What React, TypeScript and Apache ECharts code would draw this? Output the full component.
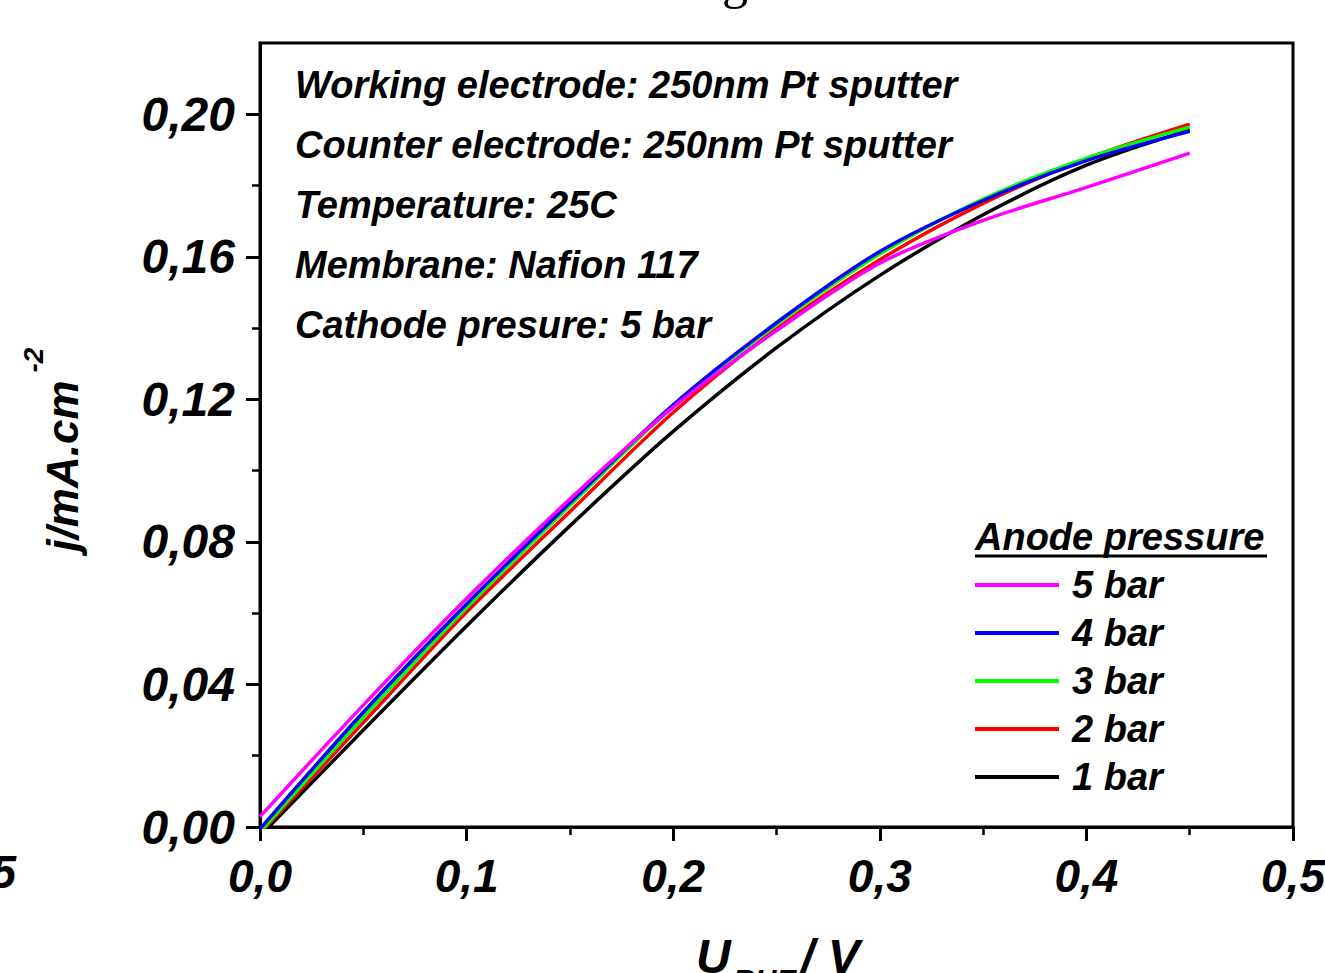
import React, { useEffect, useRef } from "react";
import * as echarts from "echarts";

// Potential U_RHE / V
const voltage = [0, 0.05, 0.1, 0.15, 0.2, 0.25, 0.3, 0.35, 0.4, 0.45];
// Current density j / mA.cm-2 for each anode pressure
const j5bar = [0.0029, 0.0342, 0.0641, 0.092, 0.1178, 0.1393, 0.1582, 0.1702, 0.1795, 0.1891];
const j4bar = [-0.0005, 0.0322, 0.0626, 0.091, 0.1185, 0.1415, 0.1615, 0.1758, 0.187, 0.1952];
const j3bar = [-0.0014, 0.0308, 0.0615, 0.0902, 0.118, 0.141, 0.1608, 0.1762, 0.1877, 0.1964];
const j2bar = [-0.0018, 0.0293, 0.0603, 0.0885, 0.1163, 0.1398, 0.1592, 0.175, 0.1875, 0.1972];
const j1bar = [-0.0025, 0.0272, 0.0564, 0.0845, 0.111, 0.1345, 0.1548, 0.1718, 0.1857, 0.1956];

const seriesNames = ["1 bar", "2 bar", "3 bar", "4 bar", "5 bar"];
const seriesData = [j1bar, j2bar, j3bar, j4bar, j5bar];
const seriesColors = ["#000000", "#ff0000", "#00ff00", "#0000ff", "#ff00ff"];
const legendOrder = ["5 bar", "4 bar", "3 bar", "2 bar", "1 bar"];

const yMajorTicks = [0, 0.04, 0.08, 0.12, 0.16, 0.2];
const yMinorTicks = [0.02, 0.06, 0.1, 0.14, 0.18];

const infoLines = [
  "Working electrode: 250nm Pt sputter",
  "Counter electrode: 250nm Pt sputter",
  "Temperature: 25C",
  "Membrane: Nafion 117",
  "Cathode presure: 5 bar",
];

const FONT = "'Liberation Sans', Arial, sans-serif";
const boldItalic = { fontFamily: FONT, fontWeight: "bold", fontStyle: "italic", fill: "#000" };

export default function App() {
  const ref = useRef<HTMLDivElement>(null);
  useEffect(() => {
    if (!ref.current) return;
    const chart = echarts.init(ref.current, undefined, { renderer: "svg" });
    const option: any = {
      animation: false,
      backgroundColor: "#ffffff",
      grid: {
        left: 260,
        right: 32,
        top: 43,
        bottom: 146,
        show: true,
        borderColor: "#000",
        borderWidth: 3,
        containLabel: false,
        outerBoundsMode: "none",
      },
      xAxis: {
        type: "value",
        min: 0,
        max: 0.5,
        interval: 0.1,
        splitLine: { show: false },
        axisLine: { lineStyle: { color: "#000", width: 3 } },
        axisTick: { inside: false, length: 14, lineStyle: { color: "#000", width: 3 } },
        minorTick: { show: true, splitNumber: 2, length: 8, lineStyle: { color: "#000", width: 2.5 } },
        axisLabel: {
          margin: 26,
          fontSize: 46,
          fontFamily: FONT,
          fontWeight: "bold",
          fontStyle: "italic",
          color: "#000",
          hideOverlap: false,
          formatter: (v: number) => v.toFixed(1).replace(".", ","),
        },
      },
      yAxis: [
        {
          type: "value",
          min: 0,
          max: 0.22,
          interval: 0.02,
          splitLine: { show: false },
          axisLine: { lineStyle: { color: "#000", width: 3 } },
          axisTick: {
            inside: false,
            length: 14,
            customValues: yMajorTicks,
            lineStyle: { color: "#000", width: 3 },
          },
          axisLabel: {
            customValues: yMajorTicks,
            margin: 25,
            fontSize: 48,
            fontFamily: FONT,
            fontWeight: "bold",
            fontStyle: "italic",
            color: "#000",
            formatter: (v: number) => v.toFixed(2).replace(".", ","),
          },
        },
        {
          type: "value",
          min: 0,
          max: 0.22,
          interval: 0.02,
          position: "left",
          offset: 0,
          splitLine: { show: false },
          axisLine: { show: false },
          axisTick: {
            inside: false,
            length: 8,
            customValues: yMinorTicks,
            lineStyle: { color: "#000", width: 2.5 },
          },
          axisLabel: { show: false },
        },
      ],
      legend: {
        data: legendOrder,
        orient: "vertical",
        left: 975,
        top: 566,
        padding: 0,
        itemWidth: 84,
        itemHeight: 4,
        itemGap: 10,
        icon: "rect",
        selectedMode: false,
        textStyle: {
          fontSize: 38,
          lineHeight: 38,
          fontFamily: FONT,
          fontWeight: "bold",
          fontStyle: "italic",
          color: "#000",
          padding: [0, 0, 0, 8],
        },
      },
      series: seriesNames.map((name, i) => ({
        name,
        type: "line",
        data: voltage.map((v, k) => [v, seriesData[i][k]]),
        smooth: 0.3,
        showSymbol: false,
        symbol: "none",
        clip: true,
        color: seriesColors[i],
        lineStyle: { color: seriesColors[i], width: 3.5 },
      })),
      graphic: [
        {
          type: "text",
          x: 735,
          y: -20,
          style: { text: "g", fontFamily: "'Liberation Serif', serif", fontSize: 52, fill: "#000", align: "center", verticalAlign: "middle" },
        },
        {
          type: "text",
          x: 16,
          y: 872,
          style: { ...boldItalic, text: "0,5", fontSize: 46, align: "right", verticalAlign: "middle" },
        },
        ...infoLines.map((t, i) => ({
          type: "text",
          x: 295,
          y: 85 + i * 60,
          style: { ...boldItalic, text: t, fontSize: 38, align: "left", verticalAlign: "middle" },
        })),
        {
          type: "text",
          x: 975,
          y: 537,
          style: { ...boldItalic, text: "Anode pressure", fontSize: 38, align: "left", verticalAlign: "middle" },
        },
        {
          type: "line",
          shape: { x1: 975, y1: 556, x2: 1267, y2: 556 },
          style: { stroke: "#000", lineWidth: 3 },
        },
        {
          type: "text",
          x: 62,
          y: 466,
          rotation: Math.PI / 2,
          style: { ...boldItalic, text: "j/mA.cm", fontSize: 44, align: "center", verticalAlign: "middle" },
        },
        {
          type: "text",
          x: 33,
          y: 360,
          rotation: Math.PI / 2,
          style: { ...boldItalic, text: "-2", fontSize: 28, align: "center", verticalAlign: "middle" },
        },
        {
          type: "text",
          x: 696,
          y: 956,
          style: { ...boldItalic, text: "U", fontSize: 48, align: "left", verticalAlign: "middle" },
        },
        {
          type: "text",
          x: 733,
          y: 979,
          style: { ...boldItalic, text: "RHE", fontSize: 30, align: "left", verticalAlign: "middle" },
        },
        {
          type: "text",
          x: 801,
          y: 956,
          style: { ...boldItalic, text: "/ V", fontSize: 48, align: "left", verticalAlign: "middle" },
        },
      ],
    };
    chart.setOption(option);
    return () => chart.dispose();
  }, []);
  return (
    <div
      ref={ref}
      style={{ position: "fixed", left: 0, top: 0, width: 1325, height: 973, background: "#fff" }}
    />
  );
}
